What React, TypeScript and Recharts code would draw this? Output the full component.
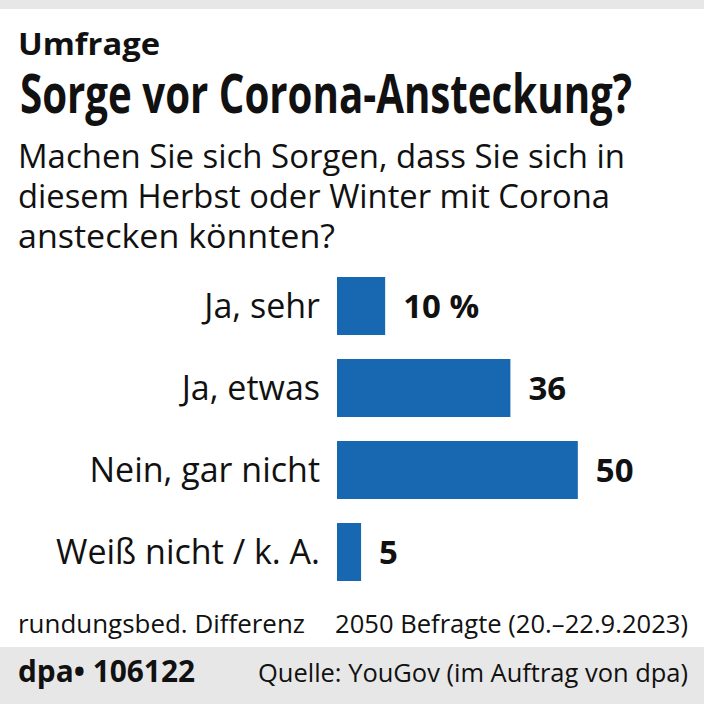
import React from "react";
import { BarChart, Bar, XAxis, YAxis, LabelList } from "recharts";

const categories = ["Ja, sehr", "Ja, etwas", "Nein, gar nicht", "Weiß nicht / k. A."];
const values = [10, 36, 50, 5];
const valueSuffixes = [" %", "", "", ""];

const kicker = "Umfrage";
const title = "Sorge vor Corona-Ansteckung?";
const subtitleLines = [
  "Machen Sie sich Sorgen, dass Sie sich in",
  "diesem Herbst oder Winter mit Corona",
  "anstecken könnten?",
];
const noteLeft = "rundungsbed. Differenz";
const noteRight = "2050 Befragte (20.–22.9.2023)";
const footerId = "dpa• 106122";
const footerSource = "Quelle: YouGov (im Auftrag von dpa)";

const data = categories.map((c, i) => ({
  name: c,
  value: values[i],
  label: `${values[i]}${valueSuffixes[i]}`,
}));

const FONT = "'Open Sans', 'DejaVu Sans', sans-serif";
const BLUE = "#1868b1";
const GRAY = "#e7e7e7";

const CatTick = (props: any) => {
  const { x, y, payload } = props;
  return (
    <text x={x} y={y} dy="0.34em" textAnchor="end" fontFamily={FONT} fontSize={34} fill="#111">
      {payload.value}
    </text>
  );
};

export default function App() {
  return (
    <div style={{ position: "absolute", left: 0, top: 0, width: 704, height: 704, background: "#fff", overflow: "hidden" }}>
      <svg width={704} height={704} style={{ position: "absolute", left: 0, top: 0 }}>
        <rect x={0} y={0} width={704} height={9} fill={GRAY} />
        <rect x={0} y={647} width={704} height={57} fill={GRAY} />
        <text x={18} y={55} fontFamily={FONT} fontWeight={700} fontSize={31} textLength={142} lengthAdjust="spacingAndGlyphs" fill="#111">{kicker}</text>
        <text x={20} y={113} fontFamily={FONT} fontWeight={700} fontSize={54} textLength={612} lengthAdjust="spacingAndGlyphs" fill="#111">{title}</text>
        <text x={18} y={168} fontFamily={FONT} fontSize={32} textLength={607} lengthAdjust="spacingAndGlyphs" fill="#111">{subtitleLines[0]}</text>
        <text x={18} y={208} fontFamily={FONT} fontSize={32} textLength={592} lengthAdjust="spacingAndGlyphs" fill="#111">{subtitleLines[1]}</text>
        <text x={18} y={248} fontFamily={FONT} fontSize={32} textLength={317} lengthAdjust="spacingAndGlyphs" fill="#111">{subtitleLines[2]}</text>
        <text x={18} y={633} fontFamily={FONT} fontSize={26} textLength={287} lengthAdjust="spacingAndGlyphs" fill="#111">{noteLeft}</text>
        <text x={335} y={633} fontFamily={FONT} fontSize={26} textLength={353} lengthAdjust="spacingAndGlyphs" fill="#111">{noteRight}</text>
        <text x={18} y={682} fontFamily={FONT} fontWeight={700} fontSize={30} textLength={177} lengthAdjust="spacingAndGlyphs" fill="#111">{footerId}</text>
        <text x={258} y={682} fontFamily={FONT} fontSize={26} textLength={430} lengthAdjust="spacingAndGlyphs" fill="#111">{footerSource}</text>
      </svg>
      <div style={{ position: "absolute", left: 0, top: 0 }}>
        <BarChart
          width={704}
          height={704}
          data={data}
          layout="vertical"
          margin={{ top: 265, right: 78, bottom: 111, left: 0 }}
        >
          <XAxis type="number" domain={[0, 60]} hide />
          <YAxis
            type="category"
            dataKey="name"
            width={337}
            axisLine={false}
            tickLine={false}
            tickSize={0}
            tickMargin={17}
            tick={<CatTick />}
            interval={0}
          />
          <Bar dataKey="value" fill={BLUE} barSize={58} isAnimationActive={false}>
            <LabelList
              dataKey="label"
              position="right"
              offset={18}
              fontFamily={FONT}
              fontWeight={700}
              fontSize={33}
              fill="#111"
            />
          </Bar>
        </BarChart>
      </div>
    </div>
  );
}
